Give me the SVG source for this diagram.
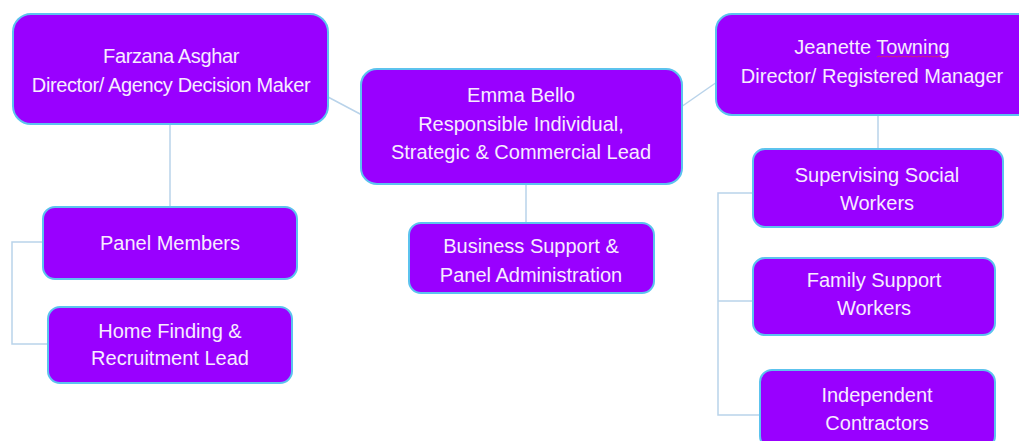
<svg xmlns="http://www.w3.org/2000/svg" width="1019" height="441" viewBox="0 0 1019 441">
<style>
.box{fill:#9900ff;stroke:#5cc3ee;stroke-width:2}
.t{font-family:"Liberation Sans",Arial,sans-serif;font-size:20px;fill:#f7ecff;text-anchor:middle}
.s{letter-spacing:-0.38px}
.c{fill:none;stroke:#b9d3ea;stroke-width:1.5}
</style>
<rect width="1019" height="441" fill="#ffffff"/>
<g id="connectors">
<line class="c" x1="328" y1="97" x2="362" y2="115"/>
<line class="c" x1="681" y1="107" x2="717" y2="82"/>
<line class="c" x1="170" y1="124" x2="170" y2="207"/>
<polyline class="c" points="43,242 12,242 12,344 48,344"/>
<line class="c" x1="526" y1="184" x2="526" y2="223"/>
<line class="c" x1="878" y1="115" x2="878" y2="149"/>
<polyline class="c" points="753,193 718,193 718,415 760,415"/>
<line class="c" x1="718" y1="301" x2="753" y2="301"/>
</g>
<g id="farzana">
<rect class="box" x="13" y="14" width="315" height="110" rx="18"/>
<text class="t s" x="171" y="63">Farzana Asghar</text>
<text class="t s" x="171" y="92">Director/ Agency Decision Maker</text>
</g>
<g id="emma">
<rect class="box" x="361" y="69" width="321" height="115" rx="16"/>
<text class="t" x="521" y="102">Emma Bello</text>
<text class="t" x="521" y="131">Responsible Individual,</text>
<text class="t" x="521" y="159">Strategic &amp; Commercial Lead</text>
</g>
<g id="jeanette">
<rect class="box" x="716" y="14" width="320" height="101" rx="16"/>
<text class="t" x="872" y="54">Jeanette Towning</text>
<path d="M877,57 l2,-1 l2,1 l2,-1 l2,1 l2,-1 l2,1 l2,-1 l2,1 l2,-1 l2,1 l2,-1 l2,1 l2,-1 l2,1 l2,-1 l2,1 l2,-1 l2,1 l2,-1 l2,1 l2,-1 l2,1 l2,-1 l2,1 l2,-1 l2,1 l2,-1 l2,1 l2,-1 l2,1 l2,-1 l2,1 l2,-1 l2,1" fill="none" stroke="#e0304a" stroke-width="0.8"/>
<text class="t" x="872" y="83">Director/ Registered Manager</text>
</g>
<g id="panel-members">
<rect class="box" x="43" y="207" width="254" height="72" rx="12"/>
<text class="t" x="170" y="250">Panel Members</text>
</g>
<g id="home-finding">
<rect class="box" x="48" y="307" width="244" height="76" rx="12"/>
<text class="t" x="170" y="338">Home Finding &amp;</text>
<text class="t" x="170" y="365">Recruitment Lead</text>
</g>
<g id="business-support">
<rect class="box" x="409" y="223" width="245" height="70" rx="12"/>
<text class="t" x="531" y="253">Business Support &amp;</text>
<text class="t" x="531" y="282">Panel Administration</text>
</g>
<g id="supervising">
<rect class="box" x="753" y="149" width="250" height="78" rx="12"/>
<text class="t" x="877" y="182">Supervising Social</text>
<text class="t" x="877" y="210">Workers</text>
</g>
<g id="family-support">
<rect class="box" x="753" y="258" width="242" height="77" rx="12"/>
<text class="t" x="874" y="287">Family Support</text>
<text class="t" x="874" y="315">Workers</text>
</g>
<g id="independent">
<rect class="box" x="760" y="370" width="235" height="78" rx="12"/>
<text class="t" x="877" y="402">Independent</text>
<text class="t" x="877" y="430">Contractors</text>
</g>
</svg>
